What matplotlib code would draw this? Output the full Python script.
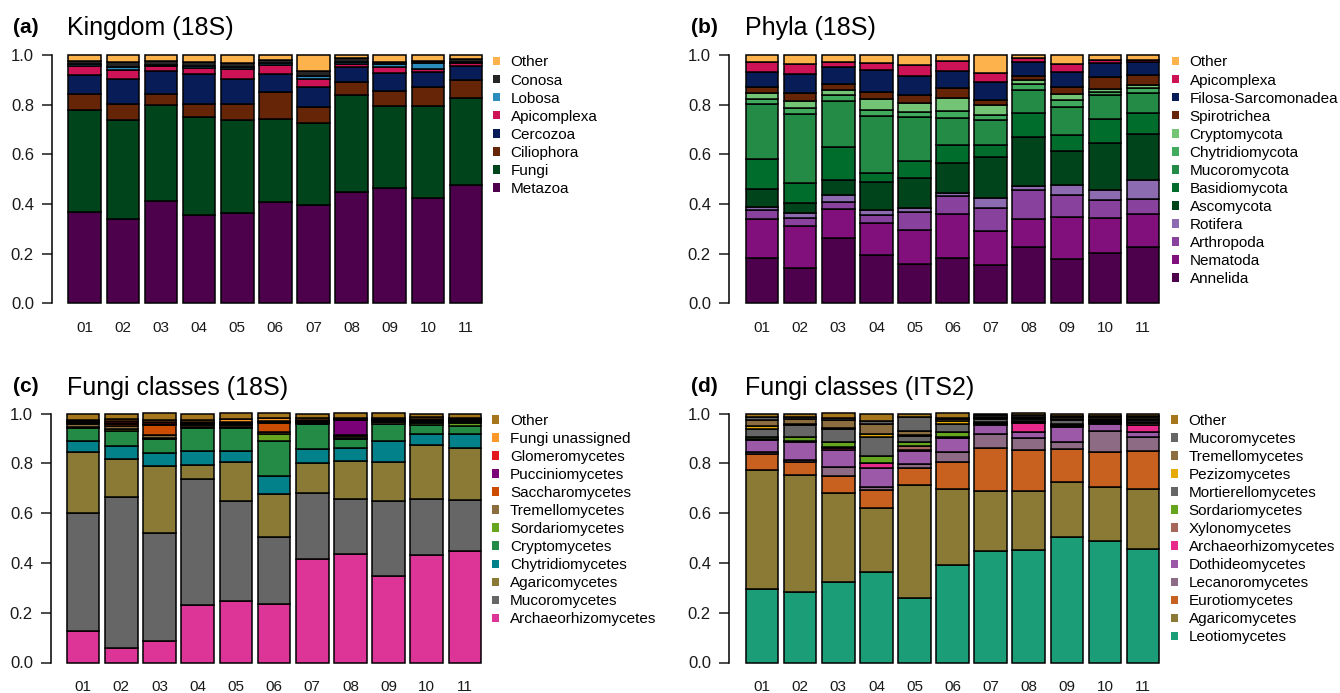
import numpy as np
import matplotlib
matplotlib.use('Agg')
import matplotlib.pyplot as plt
from matplotlib.patches import Patch

plt.rcParams['font.family'] = ['Liberation Sans', 'DejaVu Sans']

samples = ['01', '02', '03', '04', '05', '06', '07', '08', '09', '10', '11']

# (a) Kingdom (18S), bottom -> top
kingdom_names = ['Metazoa', 'Fungi', 'Ciliophora', 'Cercozoa', 'Apicomplexa', 'Lobosa', 'Conosa', 'Other']
kingdom_colors = ['#4d004b', '#00441b', '#662506', '#081d58', '#ce1256', '#2b8cbe', '#252525', '#feb24c']
metazoa = [0.366, 0.339, 0.410, 0.354, 0.363, 0.408, 0.397, 0.448, 0.466, 0.426, 0.477]
fungi = [0.413, 0.400, 0.389, 0.395, 0.376, 0.335, 0.328, 0.391, 0.329, 0.370, 0.351]
ciliophora = [0.064, 0.064, 0.044, 0.054, 0.063, 0.106, 0.067, 0.054, 0.060, 0.074, 0.073]
cercozoa = [0.077, 0.102, 0.093, 0.119, 0.101, 0.076, 0.079, 0.057, 0.071, 0.063, 0.056]
apicomplexa_k = [0.037, 0.035, 0.020, 0.024, 0.039, 0.035, 0.032, 0.012, 0.027, 0.012, 0.009]
lobosa = [0.005, 0.013, 0.004, 0.010, 0.010, 0.006, 0.014, 0.011, 0.009, 0.022, 0.007]
conosa = [0.015, 0.017, 0.017, 0.017, 0.016, 0.014, 0.020, 0.014, 0.008, 0.010, 0.011]
other_k = [0.023, 0.030, 0.023, 0.027, 0.032, 0.020, 0.063, 0.013, 0.030, 0.023, 0.016]

# (b) Phyla (18S)
phyla_names = ['Annelida', 'Nematoda', 'Arthropoda', 'Rotifera', 'Ascomycota', 'Basidiomycota',
	'Mucoromycota', 'Chytridiomycota', 'Cryptomycota', 'Spirotrichea', 'Filosa-Sarcomonadea',
	'Apicomplexa', 'Other']
phyla_colors = ['#4d004b', '#810f7c', '#88419d', '#8c6bb1', '#00441b', '#006d2c', '#238b45',
	'#41ab5d', '#74c476', '#662506', '#081d58', '#ce1256', '#feb24c']
annelida = [0.182, 0.144, 0.265, 0.193, 0.160, 0.182, 0.155, 0.225, 0.179, 0.203, 0.225]
nematoda = [0.158, 0.166, 0.115, 0.132, 0.137, 0.179, 0.136, 0.115, 0.170, 0.142, 0.136]
arthropoda = [0.037, 0.035, 0.026, 0.032, 0.072, 0.072, 0.094, 0.115, 0.088, 0.072, 0.059]
rotifera = [0.011, 0.019, 0.030, 0.019, 0.016, 0.012, 0.040, 0.018, 0.039, 0.038, 0.077]
ascomycota = [0.072, 0.038, 0.061, 0.111, 0.118, 0.122, 0.163, 0.195, 0.136, 0.192, 0.185]
basidiomycota = [0.123, 0.083, 0.131, 0.037, 0.072, 0.072, 0.051, 0.097, 0.064, 0.096, 0.085]
mucoromycota = [0.219, 0.278, 0.188, 0.230, 0.174, 0.107, 0.099, 0.096, 0.113, 0.094, 0.081]
chytridiomycota = [0.022, 0.023, 0.021, 0.024, 0.021, 0.027, 0.021, 0.024, 0.029, 0.016, 0.021]
cryptomycota = [0.021, 0.027, 0.024, 0.043, 0.037, 0.053, 0.038, 0.013, 0.026, 0.011, 0.011]
spirotrichea = [0.028, 0.035, 0.021, 0.032, 0.030, 0.042, 0.021, 0.019, 0.026, 0.046, 0.040]
filosa = [0.057, 0.077, 0.069, 0.087, 0.080, 0.066, 0.072, 0.054, 0.063, 0.058, 0.051]
apicomplexa_p = [0.043, 0.040, 0.022, 0.028, 0.044, 0.042, 0.038, 0.016, 0.032, 0.011, 0.010]
other_p = [0.027, 0.035, 0.027, 0.032, 0.039, 0.024, 0.072, 0.013, 0.035, 0.021, 0.019]

# (c) Fungi classes (18S)
fc18_names = ['Archaeorhizomycetes', 'Mucoromycetes', 'Agaricomycetes', 'Chytridiomycetes',
	'Cryptomycetes', 'Sordariomycetes', 'Tremellomycetes', 'Saccharomycetes', 'Pucciniomycetes',
	'Glomeromycetes', 'Fungi unassigned', 'Other']
fc18_colors = ['#dd3497', '#666666', '#8b7a36', '#02818a', '#238b45', '#66a61e', '#8b6d3f',
	'#cc4c02', '#7a0177', '#e31a1c', '#fe9929', '#a6761d']
archaeo_c = [0.125, 0.060, 0.087, 0.229, 0.245, 0.235, 0.417, 0.437, 0.346, 0.433, 0.449]
mucoro_c = [0.475, 0.606, 0.433, 0.506, 0.405, 0.269, 0.264, 0.218, 0.301, 0.222, 0.202]
agarico_c = [0.245, 0.153, 0.268, 0.060, 0.154, 0.174, 0.122, 0.153, 0.159, 0.220, 0.211]
chytri_c = [0.044, 0.051, 0.054, 0.056, 0.047, 0.073, 0.056, 0.054, 0.083, 0.043, 0.056]
crypto_c = [0.051, 0.059, 0.056, 0.091, 0.089, 0.140, 0.097, 0.036, 0.067, 0.035, 0.031]
sordario_c = [0.006, 0.008, 0.004, 0.004, 0.004, 0.025, 0.003, 0.004, 0.003, 0.009, 0.012]
tremello_c = [0.010, 0.012, 0.012, 0.008, 0.010, 0.010, 0.004, 0.006, 0.005, 0.004, 0.004]
saccharo_c = [0.006, 0.008, 0.038, 0.004, 0.004, 0.036, 0.003, 0.004, 0.004, 0.004, 0.004]
puccinio_c = [0.004, 0.006, 0.006, 0.004, 0.004, 0.004, 0.004, 0.062, 0.004, 0.004, 0.004]
glomero_c = [0.003, 0.006, 0.006, 0.004, 0.004, 0.004, 0.004, 0.003, 0.004, 0.004, 0.004]
unassigned_c = [0.006, 0.008, 0.008, 0.006, 0.010, 0.010, 0.008, 0.003, 0.006, 0.006, 0.006]
other_c = [0.025, 0.023, 0.028, 0.028, 0.024, 0.020, 0.018, 0.020, 0.018, 0.016, 0.017]

# (d) Fungi classes (ITS2)
its_names = ['Leotiomycetes', 'Agaricomycetes', 'Eurotiomycetes', 'Lecanoromycetes',
	'Dothideomycetes', 'Archaeorhizomycetes', 'Xylonomycetes', 'Sordariomycetes',
	'Mortierellomycetes', 'Pezizomycetes', 'Tremellomycetes', 'Mucoromycetes', 'Other']
its_colors = ['#1b9e77', '#8b7a36', '#c8601f', '#8e6b84', '#9b59a8', '#e7298a', '#a6685a',
	'#66a61e', '#666666', '#e6ab02', '#8b6d3f', '#666666', '#a6761d']
leotio_d = [0.295, 0.285, 0.325, 0.365, 0.261, 0.390, 0.446, 0.450, 0.506, 0.486, 0.456]
agarico_d = [0.479, 0.469, 0.354, 0.257, 0.450, 0.307, 0.243, 0.237, 0.218, 0.217, 0.240]
eurotio_d = [0.065, 0.051, 0.072, 0.071, 0.069, 0.108, 0.174, 0.167, 0.133, 0.144, 0.154]
lecano_d = [0.008, 0.009, 0.035, 0.012, 0.019, 0.040, 0.054, 0.047, 0.028, 0.081, 0.054]
dothideo_d = [0.046, 0.071, 0.068, 0.078, 0.051, 0.056, 0.037, 0.024, 0.060, 0.029, 0.021]
archaeo_d = [0.003, 0.003, 0.009, 0.017, 0.003, 0.003, 0.004, 0.036, 0.004, 0.004, 0.027]
xylono_d = [0.003, 0.003, 0.003, 0.003, 0.018, 0.003, 0.004, 0.004, 0.004, 0.004, 0.010]
sordario_d = [0.006, 0.013, 0.019, 0.028, 0.014, 0.018, 0.004, 0.004, 0.004, 0.004, 0.004]
mortierello_d = [0.033, 0.048, 0.053, 0.074, 0.024, 0.032, 0.010, 0.008, 0.018, 0.006, 0.008]
pezizo_d = [0.010, 0.004, 0.005, 0.012, 0.004, 0.014, 0.004, 0.004, 0.004, 0.004, 0.004]
tremello_d = [0.025, 0.023, 0.032, 0.040, 0.017, 0.006, 0.006, 0.006, 0.006, 0.006, 0.006]
mucoro_d = [0.011, 0.006, 0.007, 0.011, 0.054, 0.006, 0.006, 0.006, 0.005, 0.006, 0.006]
other_d = [0.016, 0.015, 0.018, 0.032, 0.016, 0.017, 0.008, 0.007, 0.010, 0.009, 0.010]

W, H = 1340, 693


def box(left, top, right, bottom):
	# pixel box -> figure fraction
	return [left / W, 1 - bottom / H, (right - left) / W, (bottom - top) / H]


def drawPanel(fig, rect, x0, series, names, colors, letter, title, legend_xy, title_xy):
	ax = fig.add_axes(rect)
	x = np.arange(len(samples))
	bottom = np.zeros(len(samples))
	for vals, col in zip(series, colors):
		vals = np.array(vals)
		ax.bar(x, vals, width=0.855, bottom=bottom, color=col, edgecolor='black',
			linewidth=1.1, clip_on=False)
		bottom += vals

	ax.set_xlim(x0, 10.55)
	ax.set_ylim(0, 1)
	for s in ['top', 'right', 'bottom']:
		ax.spines[s].set_visible(False)
	ax.spines['left'].set_bounds(0, 1)
	ax.spines['left'].set_linewidth(1.1)
	ax.set_yticks([0, 0.2, 0.4, 0.6, 0.8, 1.0])
	ax.set_yticklabels(['0.0', '0.2', '0.4', '0.6', '0.8', '1.0'])
	ax.tick_params(axis='y', length=7, width=1.1, pad=6, labelsize=12, colors='#1a1a1a')
	ax.set_xticks(x)
	ax.set_xticklabels(samples)
	ax.tick_params(axis='x', length=0, pad=12.5, labelsize=11, colors='#1a1a1a')

	# legend: top of stack first
	handles = [Patch(facecolor=c, edgecolor='none') for c in colors][::-1]
	ax.legend(handles, names[::-1], loc='upper left', frameon=False, fontsize=11,
		bbox_to_anchor=(legend_xy[0] / W, 1 - legend_xy[1] / H), bbox_transform=fig.transFigure,
		borderpad=0, borderaxespad=0, handlelength=0.48, handleheight=0.48,
		handletextpad=0.7, labelspacing=0.265)

	fig.text(title_xy[0] - 54 / W, title_xy[1] + 2 / H, letter, fontsize=15, fontweight='bold',
		va='baseline', ha='left')
	fig.text(title_xy[0], title_xy[1], title, fontsize=18, va='baseline', ha='left')
	return ax


fig = plt.figure(figsize=(13.4, 6.93), dpi=100)

drawPanel(fig, box(52, 55, 487, 303.3), -0.858,
	[metazoa, fungi, ciliophora, cercozoa, apicomplexa_k, lobosa, conosa, other_k],
	kingdom_names, kingdom_colors, '(a)', 'Kingdom (18S)', (492.7, 55.5), (67 / W, 1 - 35 / H))

drawPanel(fig, box(729, 55, 1164, 303.3), -0.869,
	[annelida, nematoda, arthropoda, rotifera, ascomycota, basidiomycota, mucoromycota,
		chytridiomycota, cryptomycota, spirotrichea, filosa, apicomplexa_p, other_p],
	phyla_names, phyla_colors, '(b)', 'Phyla (18S)', (1171.7, 55.5), (745 / W, 1 - 35 / H))

drawPanel(fig, box(51, 413.5, 486, 662.5), -0.84,
	[archaeo_c, mucoro_c, agarico_c, chytri_c, crypto_c, sordario_c, tremello_c, saccharo_c,
		puccinio_c, glomero_c, unassigned_c, other_c],
	fc18_names, fc18_colors, '(c)', 'Fungi classes (18S)', (492, 413.8), (67 / W, 1 - 394.5 / H))

drawPanel(fig, box(729, 413.5, 1164, 662.5), -0.869,
	[leotio_d, agarico_d, eurotio_d, lecano_d, dothideo_d, archaeo_d, xylono_d, sordario_d,
		mortierello_d, pezizo_d, tremello_d, mucoro_d, other_d],
	its_names, its_colors, '(d)', 'Fungi classes (ITS2)', (1170.7, 413.8), (745 / W, 1 - 394.5 / H))

plt.savefig('out.png', dpi=100)
